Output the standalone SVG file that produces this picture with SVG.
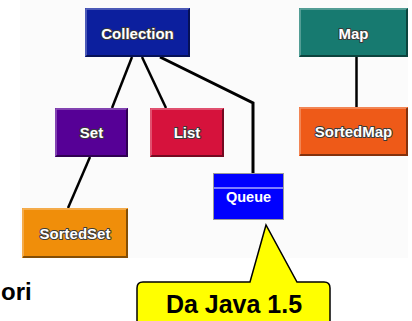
<svg xmlns="http://www.w3.org/2000/svg" width="412" height="321" viewBox="0 0 412 321">
<style>
.box{stroke:none}
.hl{fill:none;stroke:#ffffff;stroke-opacity:0.35;stroke-width:1.5}
.sh{fill:none;stroke:#000;stroke-opacity:0.45;stroke-width:2}
.lbl{font-family:"Liberation Sans",Arial,sans-serif;font-weight:bold;font-size:15px;fill:#ffffff;stroke:#3a3a3a;stroke-width:2;paint-order:stroke;stroke-linejoin:round;text-anchor:middle}
.conn{stroke:#000;fill:none;stroke-linecap:butt}
</style>
<rect x="0" y="0" width="412" height="321" fill="#ffffff"/>
<rect x="20" y="0" width="388" height="258" fill="#fbfbfb"/>
<g id="connectors">
<line class="conn" x1="132" y1="57" x2="112" y2="108" stroke-width="2.5"/>
<line class="conn" x1="142" y1="57" x2="166" y2="108" stroke-width="2.5"/>
<polyline class="conn" points="160,57 253,103 253,173" stroke-width="3"/>
<line class="conn" x1="356.5" y1="57" x2="356.5" y2="107" stroke-width="2.5"/>
<line class="conn" x1="90" y1="157" x2="68" y2="208" stroke-width="2.5"/>
</g>
<g id="node-collection">
<rect class="box" x="85" y="8" width="105" height="49" fill="#0c1f9e"/>
<polyline class="hl" points="86,56 86,9 189,9"/>
<polyline class="sh" points="86,56 189,56 189,9"/>
<text class="lbl" x="137.5" y="38.5">Collection</text>
</g>
<g id="node-set">
<rect class="box" x="55" y="108" width="73" height="49" fill="#560096"/>
<polyline class="hl" points="56,156 56,109 127,109"/>
<polyline class="sh" points="56,156 127,156 127,109"/>
<text class="lbl" x="91.5" y="138">Set</text>
</g>
<g id="node-list">
<rect class="box" x="150" y="108" width="74" height="49" fill="#d6123c"/>
<polyline class="hl" points="151,156 151,109 223,109"/>
<polyline class="sh" points="151,156 223,156 223,109"/>
<text class="lbl" x="187" y="138">List</text>
</g>
<g id="node-map">
<rect class="box" x="299" y="8" width="109" height="49" fill="#177a70"/>
<polyline class="hl" points="300,56 300,9 407,9"/>
<polyline class="sh" points="300,56 407,56 407,9"/>
<text class="lbl" x="353.5" y="38.5">Map</text>
</g>
<g id="node-sortedmap">
<rect class="box" x="299" y="107" width="109" height="49" fill="#ee5a18"/>
<polyline class="hl" points="300,155 300,108 407,108"/>
<polyline class="sh" points="300,155 407,155 407,108"/>
<text class="lbl" x="353.5" y="137">SortedMap</text>
</g>
<g id="node-sortedset">
<rect class="box" x="22" y="208" width="106" height="50" fill="#f08e0a"/>
<polyline class="hl" points="23,257 23,209 127,209"/>
<polyline class="sh" points="23,257 127,257 127,209"/>
<text class="lbl" x="75" y="238.5">SortedSet</text>
</g>
<g id="node-queue">
<rect x="213.5" y="173.5" width="70" height="46" fill="#0000ff" stroke="#9a9a9a" stroke-width="1"/>
<line x1="214" y1="188" x2="283" y2="188" stroke="#ffffff" stroke-width="1"/>
<text x="248.5" y="202" font-family="'Liberation Sans',Arial,sans-serif" font-weight="bold" font-size="14.5" fill="#ffffff" text-anchor="middle">Queue</text>
</g>
<g id="text-ori">
<text x="1" y="300" font-family="'Liberation Sans',Arial,sans-serif" font-weight="bold" font-size="24" fill="#000000">ori</text>
</g>
<g id="callout">
<path d="M137,288 Q137,282 143,282 L250,282 L266,225 L297,282 L324,282 Q330,282 330,288 L330,330 L137,330 Z" fill="#ffff00" stroke="#000000" stroke-width="1.5" stroke-linejoin="miter"/>
<text x="234" y="313" font-family="'Liberation Sans',Arial,sans-serif" font-weight="bold" font-size="25" fill="#000000" text-anchor="middle">Da Java 1.5</text>
</g>
</svg>
